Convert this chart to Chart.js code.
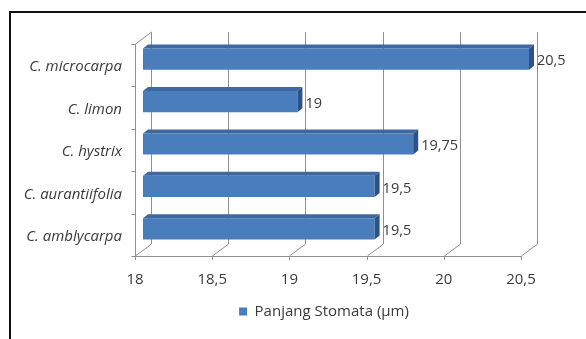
<!DOCTYPE html>
<html>
<head>
<meta charset="utf-8">
<script src="https://cdn.jsdelivr.net/npm/chart.js@4"></script>
<style>
  html, body { margin: 0; padding: 0; background: #fff; }
  #wrap { width: 586px; height: 339px; }
</style>
</head>
<body>
<div id="wrap"><canvas id="stomataChart" width="586" height="339"></canvas></div>
<script>
// Data
const categories = ['C. microcarpa', 'C. limon', 'C. hystrix', 'C. aurantiifolia', 'C. amblycarpa'];
const panjangStomata = [20.5, 19, 19.75, 19.5, 19.5];
const xTicks = [18, 18.5, 19, 19.5, 20, 20.5];
const seriesName = 'Panjang Stomata (\u00b5m)';

// half depth of the 3D box, and depth of the bars
const DX = 8, DY = 6;
const BX = 5, BY = 4;
const gridColor = '#8f8f8f';
const textColor = '#3a3a3a';
const fontFamily = "'Open Sans', sans-serif";

// decimal comma like the original
function fmt(v) {
    return String(v).replace('.', ',');
}

function line(ctx, x1, y1, x2, y2) {
    ctx.beginPath();
    ctx.moveTo(x1, y1);
    ctx.lineTo(x2, y2);
    ctx.stroke();
}

// walls, floor and grid of the 3D box
const boxPlugin = {
    id: 'box3d',
    beforeDraw(chart) {
        const ctx = chart.ctx;
        ctx.save();
        ctx.fillStyle = '#fff';
        ctx.fillRect(0, 0, chart.width, chart.height);
        // black frame
        ctx.fillStyle = '#111';
        ctx.fillRect(9, 11, 2, chart.height - 11);
        ctx.fillRect(9, 11, chart.width - 9, 2);
        ctx.restore();
    },
    beforeDatasetsDraw(chart) {
        const ctx = chart.ctx;
        const xs = chart.scales.x;
        const area = chart.chartArea;
        const top = area.top, bottom = area.bottom;
        const x0 = Math.round(xs.getPixelForValue(xTicks[0])) + 0.5;
        const x1 = Math.round(xs.getPixelForValue(xTicks[xTicks.length - 1])) + 0.5;
        ctx.save();
        ctx.strokeStyle = gridColor;
        ctx.lineWidth = 1;
        xTicks.forEach(v => {
            const px = Math.round(xs.getPixelForValue(v)) + 0.5;
            line(ctx, px + DX, top - DY, px + DX, bottom - DY);
            line(ctx, px - DX, bottom + DY, px + DX, bottom - DY);
            line(ctx, px - DX, bottom + DY, px - DX, bottom + DY + 4);
        });
        // front floor edge
        line(ctx, x0 - DX, Math.round(bottom + DY) + 0.5, x1 - DX, Math.round(bottom + DY) + 0.5);
        // left wall
        line(ctx, x0 - DX, top + DY, x0 - DX, bottom + DY);
        line(ctx, x0 - DX, top + DY, x0 + DX, top - DY);
        const n = categories.length;
        for (let i = 0; i <= n; i++) {
            const y = Math.round(top + DY + i * (bottom - top) / n) + 0.5;
            line(ctx, x0 - DX - 4, y, x0 - DX, y);
        }
        ctx.restore();
    },
    afterDatasetsDraw(chart) {
        const ctx = chart.ctx;
        const meta = chart.getDatasetMeta(0);
        const left = chart.chartArea.left;
        ctx.save();
        meta.data.forEach((bar, i) => {
            const t = bar.y - bar.height / 2;
            const b = bar.y + bar.height / 2;
            const base = Math.max(bar.base, left);
            // top face
            ctx.fillStyle = '#3d69a0';
            ctx.beginPath();
            ctx.moveTo(base, t);
            ctx.lineTo(bar.x, t);
            ctx.lineTo(bar.x + BX, t - BY);
            ctx.lineTo(base + BX, t - BY);
            ctx.closePath();
            ctx.fill();
            // right face
            ctx.fillStyle = '#2d5386';
            ctx.beginPath();
            ctx.moveTo(bar.x, t);
            ctx.lineTo(bar.x + BX, t - BY);
            ctx.lineTo(bar.x + BX, b - BY);
            ctx.lineTo(bar.x, b);
            ctx.closePath();
            ctx.fill();
            // value label
            ctx.fillStyle = textColor;
            ctx.font = '14.5px ' + fontFamily;
            ctx.textAlign = 'left';
            ctx.textBaseline = 'middle';
            ctx.fillText(fmt(panjangStomata[i]), bar.x + BX + 3, bar.y + 2);
        });
        ctx.restore();
    }
};

new Chart(document.getElementById('stomataChart'), {
    type: 'bar',
    data: {
        labels: categories,
        datasets: [{
            label: seriesName,
            data: panjangStomata,
            backgroundColor: '#4a7dbb',
            borderWidth: 0,
            barPercentage: 0.5,
            categoryPercentage: 1
        }]
    },
    options: {
        indexAxis: 'y',
        responsive: false,
        animation: false,
        layout: {
            // negative right padding only moves the legend centre to the right
            padding: { left: 0, right: -62, top: 38, bottom: 10 }
        },
        scales: {
            x: {
                min: 18,
                max: 20.5,
                grid: { display: false, drawTicks: false },
                border: { display: false },
                afterBuildTicks(scale) {
                    scale.ticks = xTicks.map(v => ({ value: v }));
                },
                afterFit(scale) {
                    scale.height = 44;
                    scale.paddingRight = 57;
                },
                ticks: {
                    padding: 21,
                    labelOffset: -DX,
                    color: textColor,
                    font: { family: fontFamily, size: 15 },
                    callback: v => fmt(v)
                }
            },
            y: {
                grid: { display: false, drawTicks: false },
                border: { display: false },
                afterFit(scale) {
                    scale.width = 143;
                },
                ticks: {
                    padding: 21,
                    labelOffset: 8,
                    color: textColor,
                    font: { family: fontFamily, size: 15, style: 'italic' }
                }
            }
        },
        plugins: {
            legend: {
                position: 'bottom',
                labels: {
                    boxWidth: 8,
                    boxHeight: 8,
                    padding: 10,
                    color: textColor,
                    font: { family: fontFamily, size: 15 }
                }
            },
            tooltip: { enabled: false }
        }
    },
    plugins: [boxPlugin]
});
</script>
</body>
</html>
